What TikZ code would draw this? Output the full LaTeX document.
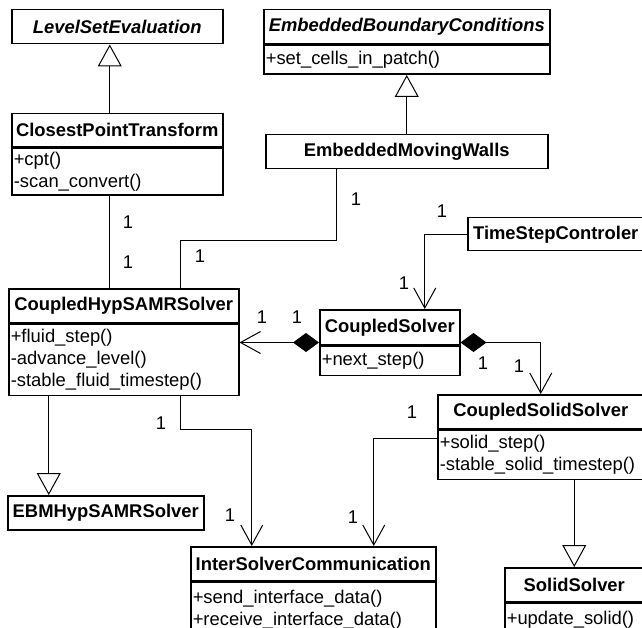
\documentclass[tikz,border=0pt]{standalone}
\usepackage{fontspec}
\setmainfont{Liberation Sans}
\usetikzlibrary{arrows.meta}
\newcommand{\umlfont}{\fontsize{18.4}{22}\selectfont}

\begin{document}
\begin{tikzpicture}[
    x=1pt, y=-1pt,
    klass/.style={rectangle, draw, line width=1.5pt, inner sep=0pt, anchor=north west, font=\umlfont\bfseries},
    abstract/.style={klass, font=\umlfont\bfseries\itshape},
    ops/.style={rectangle, draw, line width=1.5pt, inner xsep=2pt, inner ysep=0pt, anchor=north west, align=left, font=\umlfont},
    mult/.style={inner sep=0pt, font=\umlfont},
    link/.style={line width=1pt},
    inherit/.style={link, -{Triangle[open, length=22pt, width=24pt]}},
    navig/.style={link, -{Straight Barb[length=20pt, width=22pt]}},
    compose/.style={link, {Diamond[length=26pt, width=19pt]}-{Straight Barb[length=20pt, width=22pt]}},
]
    \useasboundingbox (0,0) rectangle (642,628);
    \clip (0,0) rectangle (642,628);

    % level set side
    \node[abstract, minimum width=211pt, minimum height=34pt] (lse) at (11,9) {LevelSetEvaluation};
    \node[klass, minimum width=211pt, minimum height=33pt] (cpt) at (11,113) {ClosestPointTransform};
    \node[ops, minimum width=211pt, text width=207pt, minimum height=47pt] (cptops) at (cpt.south west) {+cpt()\\-scan\_convert()};

    % boundary conditions
    \node[abstract, minimum width=286pt, minimum height=34pt] (ebc) at (263,9) {EmbeddedBoundaryConditions};
    \node[ops, minimum width=286pt, text width=282pt, minimum height=29pt] (ebcops) at (ebc.south west) {+set\_cells\_in\_patch()};
    \node[klass, minimum width=282pt, minimum height=34pt] (emw) at (265,134) {EmbeddedMovingWalls};

    % fluid solver
    \node[klass, minimum width=230pt, minimum height=34pt] (hyp) at (8,288) {CoupledHypSAMRSolver};
    \node[ops, minimum width=230pt, text width=226pt, minimum height=71pt] (hypops) at (hyp.south west) {+fluid\_step()\\-advance\_level()\\-stable\_fluid\_timestep()};
    \node[klass, minimum width=196pt, minimum height=34pt] (ebm) at (7,495) {EBMHypSAMRSolver};

    % coupling
    \node[klass, minimum width=140pt, minimum height=35pt] (cs) at (319,309) {CoupledSolver};
    \node[ops, minimum width=140pt, text width=136pt, minimum height=29pt] (csops) at (cs.south west) {+next\_step()};
    \node[klass, minimum width=176pt, minimum height=33pt] (tsc) at (467,217) {TimeStepControler};
    \node[klass, minimum width=245pt, minimum height=34pt] (isc) at (190,546) {InterSolverCommunication};
    \node[ops, minimum width=245pt, text width=241pt, minimum height=54pt] (iscops) at (isc.south west) {+send\_interface\_data()\\+receive\_interface\_data()};

    % solid solver
    \node[klass, minimum width=206pt, minimum height=34pt] (css) at (437,394) {CoupledSolidSolver};
    \node[ops, minimum width=206pt, text width=202pt, minimum height=49pt] (cssops) at (css.south west) {+solid\_step()\\-stable\_solid\_timestep()};
    \node[klass, minimum width=139pt, minimum height=34pt] (ss) at (504,567) {SolidSolver};
    \node[ops, minimum width=139pt, text width=135pt, minimum height=32pt] (ssops) at (ss.south west) {+update\_solid()};

    % generalizations
    \draw[inherit] ([xshift=-7.5pt]cpt.north) -- ([xshift=-7.5pt]lse.south);
    \draw[inherit] (emw.north) -- (ebcops.south);
    \draw[inherit] ([xshift=-75pt]hypops.south) -- ([xshift=-75pt]hypops.south |- ebm.north);
    \draw[inherit] (cssops.south -| ss.north) -- (ss.north);

    % associations
    \draw[link] ([xshift=-7.5pt]cptops.south) -- ([xshift=-7.5pt]cptops.south |- hyp.north);
    \draw[link] ([xshift=-70pt]emw.south) -- ++(0,71) -| ([xshift=57pt]hyp.north);
    \draw[navig] (tsc.west) -| ([xshift=35pt]cs.north);
    \draw[navig] ([xshift=57pt]hypops.south) -- ++(0,33) -| ([xshift=-61.5pt]isc.north);
    \draw[navig] ([yshift=-9pt]cssops.north west) -| ([xshift=60.5pt]isc.north);
    \draw[compose] ([yshift=3pt]cs.south west) -- ([yshift=3pt]cs.south west -| hypops.east);
    \draw[compose] ([yshift=3pt]cs.south east) -| (css.north);

    % multiplicities
    \node[mult] (m1) at (128,222) {1};
    \node[mult] (m2) at (128,262) {1};
    \node[mult] (m3) at (356,199) {1};
    \node[mult] (m4) at (200,256) {1};
    \node[mult] (m5) at (262,317) {1};
    \node[mult] (m6) at (297,317) {1};
    \node[mult] (m7) at (442,211) {1};
    \node[mult] (m8) at (404,283) {1};
    \node[mult] (m9) at (483,363) {1};
    \node[mult] (m10) at (519,366) {1};
    \node[mult] (m11) at (412,412) {1};
    \node[mult] (m12) at (353,517) {1};
    \node[mult] (m13) at (161,423) {1};
    \node[mult] (m14) at (230,515) {1};
\end{tikzpicture}
\end{document}
